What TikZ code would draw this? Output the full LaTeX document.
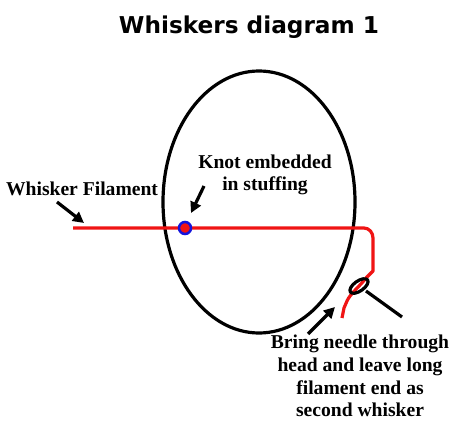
\documentclass[tikz,border=0pt]{standalone}
\usepackage{fontspec}
\setmainfont{Liberation Serif}
\newfontfamily\titlefont{DejaVu Sans}
\usetikzlibrary{arrows.meta}
\definecolor{filred}{RGB}{240,20,20}
\definecolor{knotblue}{RGB}{20,20,220}
\tikzset{
  lbl/.style={font=\fontsize{19.6}{22.7}\selectfont\bfseries, align=center, inner sep=0pt},
  ptr/.style={line width=3.2pt, -{Triangle[length=11pt,width=11pt]}},
  thick3/.style={line width=3.2pt}
}
\begin{document}
\begin{tikzpicture}[x=1pt,y=-1pt]
\useasboundingbox (0,0) rectangle (474,436);
\fill[white] (0,0) rectangle (474,436);
% title
\node[font=\titlefont\fontsize{23.2}{27}\selectfont\bfseries, inner sep=0pt] (title) at (249,27) {Whiskers diagram 1};
% head ellipse
\draw[thick3] (259,202) ellipse [x radius=96, y radius=131];
% filament
\coordinate (fstart) at (73,228);
\coordinate (fend) at (342,318);
\draw[filred, thick3, line join=round] (fstart) -- (364,228) to[out=0,in=90] (373,238) -- (373,271)
  -- (366,278) .. controls (360,286) and (350,294) .. (347,301) -- (344,308) -- (fend);
% knot
\node[circle, fill=filred, draw=knotblue, line width=2.5pt, minimum size=12pt, inner sep=0pt] (knot) at (185,228) {};
% needle
\draw[thick3, rotate around={35:(359,286)}] (359,286) ellipse [x radius=10.5, y radius=5];
\coordinate (neye) at (366,291);
\coordinate (ntip) at (402,317);
\draw[thick3] (neye) -- (ntip);
% labels
\node[lbl] (wf) at (82,189) {Whisker Filament};
\node[lbl] (kt) at (265,175) {Knot embedded\\in stuffing};
\node[lbl] (bn) at (360,376) {Bring needle through\\head and leave long\\filament end as\\second whisker};
% arrows
\coordinate (a1s) at (57,202);
\coordinate (a1e) at (84,223);
\draw[ptr] (a1s) -- (a1e);
\coordinate (a2s) at (204,186);
\coordinate (a2e) at (191,213);
\draw[ptr] (a2s) -- (a2e);
\coordinate (a3s) at (308,334);
\coordinate (a3e) at (335,307);
\draw[ptr] (a3s) -- (a3e);
\end{tikzpicture}
\end{document}
